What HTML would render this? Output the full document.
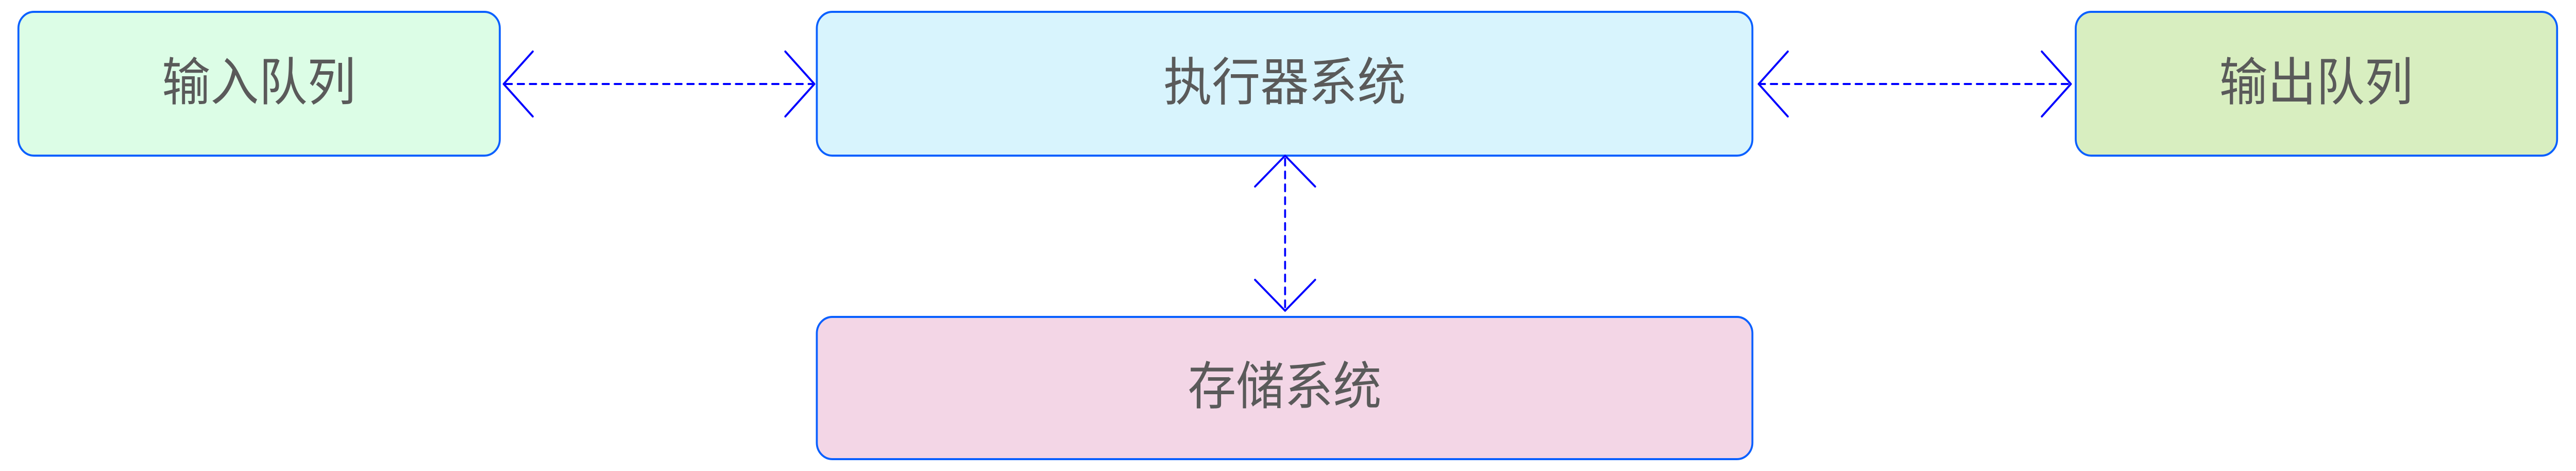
<!DOCTYPE html>
<html><head><meta charset="utf-8"><style>
html,body{margin:0;padding:0;background:#fff;width:100%;height:100%;overflow:hidden}
svg{display:block;width:100vw;height:100vh}
text{font-family:"Liberation Sans","Noto Sans CJK SC",sans-serif;font-size:100px;fill:#5a5a5a;text-anchor:middle;dominant-baseline:central}
</style></head><body>
<svg viewBox="0 0 5314 914" preserveAspectRatio="none" xmlns="http://www.w3.org/2000/svg">
<g stroke="#0a60ff" stroke-width="4">
<rect x="38" y="23" width="993" height="279" rx="32" fill="#dcfde6"/>
<rect x="1685" y="23" width="1930" height="279" rx="32" fill="#d8f4fd"/>
<rect x="4282" y="23" width="993" height="279" rx="32" fill="#d8eec0"/>
<rect x="1685" y="615" width="1930" height="276" rx="32" fill="#f3d6e6"/>
</g>
<text x="534" y="160">输入队列</text>
<text x="2650" y="160">执行器系统</text>
<text x="4778" y="160">输出队列</text>
<text x="2650" y="750">存储系统</text>
<g stroke="#0000ff" stroke-width="4" fill="none" stroke-linecap="round" stroke-linejoin="round">
<line x1="1043" y1="163" x2="1677" y2="163" stroke-dasharray="13 12"/>
<polyline points="1099,100 1039,163 1099,226"/>
<polyline points="1620,100 1680,163 1620,226"/>
<line x1="3628" y1="163" x2="4272" y2="163" stroke-dasharray="13 12"/>
<polyline points="3688,100 3628,163 3688,226"/>
<polyline points="4212,100 4272,163 4212,226"/>
<line x1="2651" y1="308" x2="2651" y2="600" stroke-dasharray="13 12"/>
<polyline points="2589,362 2651,302 2713,362"/>
<polyline points="2589,543 2651,603 2713,543"/>
</g>
</svg>
</body></html>
